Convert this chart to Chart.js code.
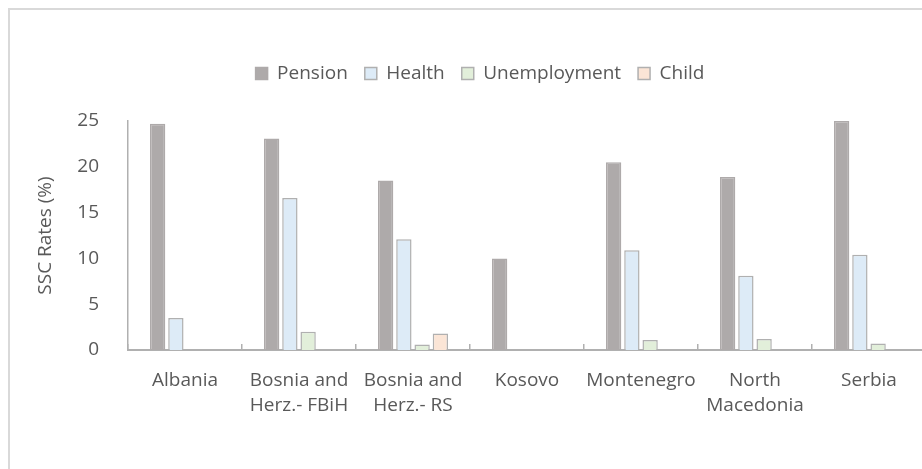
<!DOCTYPE html>
<html>
<head>
    <title>SSC Rates</title>
    <script src="https://cdn.jsdelivr.net/npm/chart.js"></script>
    <style>
        body { margin: 0; overflow: hidden; background: #fff; }
        #frame { position: absolute; left: 8px; top: 8px; width: 2000px; height: 2000px; border: 2px solid #d9d9d9; }
        #myChart { position: absolute; left: 0; top: 0; }
    </style>
</head>
<body>
    <div id="frame"></div>
    <canvas id="myChart" width="960" height="469"></canvas>
    <script>
        const countries = [
            'Albania',
            ['Bosnia and', 'Herz.- FBiH'],
            ['Bosnia and', 'Herz.- RS'],
            'Kosovo',
            'Montenegro',
            ['North', 'Macedonia'],
            'Serbia'
        ];
        const pension = [24.7, 23.1, 18.5, 10.0, 20.5, 18.9, 25.0];
        const health = [3.5, 16.6, 12.1, null, 10.9, 8.1, 10.4];
        const unemployment = [null, 2.0, 0.6, null, 1.1, 1.2, 0.7];
        const child = [null, null, 1.8, null, null, null, null];
        const yTicks = [0, 5, 10, 15, 20, 25];

        const textColor = '#595959';
        const lineColor = '#b0b0b0';
        Chart.defaults.font.family = '"Open Sans", "Noto Sans", sans-serif';
        Chart.defaults.font.size = 19;
        Chart.defaults.color = textColor;

        // extra room under the legend
        const legendGap = {
            id: 'legendGap',
            beforeInit(chart) {
                const fit = chart.legend.fit;
                chart.legend.fit = function () {
                    fit.bind(chart.legend)();
                    this.height = 74;
                };
            }
        };

        function ds(label, data, fill, border) {
            return {
                label: label,
                data: data,
                backgroundColor: fill,
                borderColor: border,
                borderWidth: 1.5,
                barPercentage: 0.84,
                categoryPercentage: 0.64
            };
        }

        const ctx = document.getElementById('myChart').getContext('2d');
        const myChart = new Chart(ctx, {
            type: 'bar',
            data: {
                labels: countries,
                datasets: [
                    ds('Pension', pension, '#aeaaaa', '#aeaaaa'),
                    ds('Health', health, '#ddebf7', lineColor),
                    ds('Unemployment', unemployment, '#e2efda', lineColor),
                    ds('Child', child, '#fbe5d6', lineColor)
                ]
            },
            plugins: [legendGap],
            options: {
                responsive: false,
                animation: false,
                layout: { padding: { left: 34, right: 34, top: 47, bottom: 0 } },
                plugins: {
                    tooltip: { enabled: false },
                    legend: {
                        position: 'top',
                        labels: {
                            boxWidth: 12,
                            boxHeight: 12,
                            padding: 17,
                            color: textColor
                        }
                    }
                },
                scales: {
                    x: {
                        afterFit(scale) { scale.height = 119; },
                        grid: {
                            display: true,
                            drawOnChartArea: false,
                            drawTicks: true,
                            tickLength: -6,
                            offset: true,
                            color: lineColor,
                            lineWidth: 1.5
                        },
                        border: { display: true, color: lineColor, width: 2 },
                        ticks: {
                            autoSkip: false,
                            maxRotation: 0,
                            padding: 25,
                            font: { lineHeight: 1.27 }
                        }
                    },
                    y: {
                        min: 0,
                        max: 25,
                        afterFit(scale) { scale.width = 94; },
                        afterBuildTicks(scale) {
                            scale.ticks = yTicks.map(v => ({ value: v }));
                        },
                        grid: { display: false },
                        border: { display: true, color: lineColor, width: 1.5 },
                        ticks: { padding: 21 },
                        title: {
                            display: true,
                            text: 'SSC Rates (%)',
                            padding: 0,
                            color: textColor
                        }
                    }
                }
            }
        });
    </script>
</body>
</html>
